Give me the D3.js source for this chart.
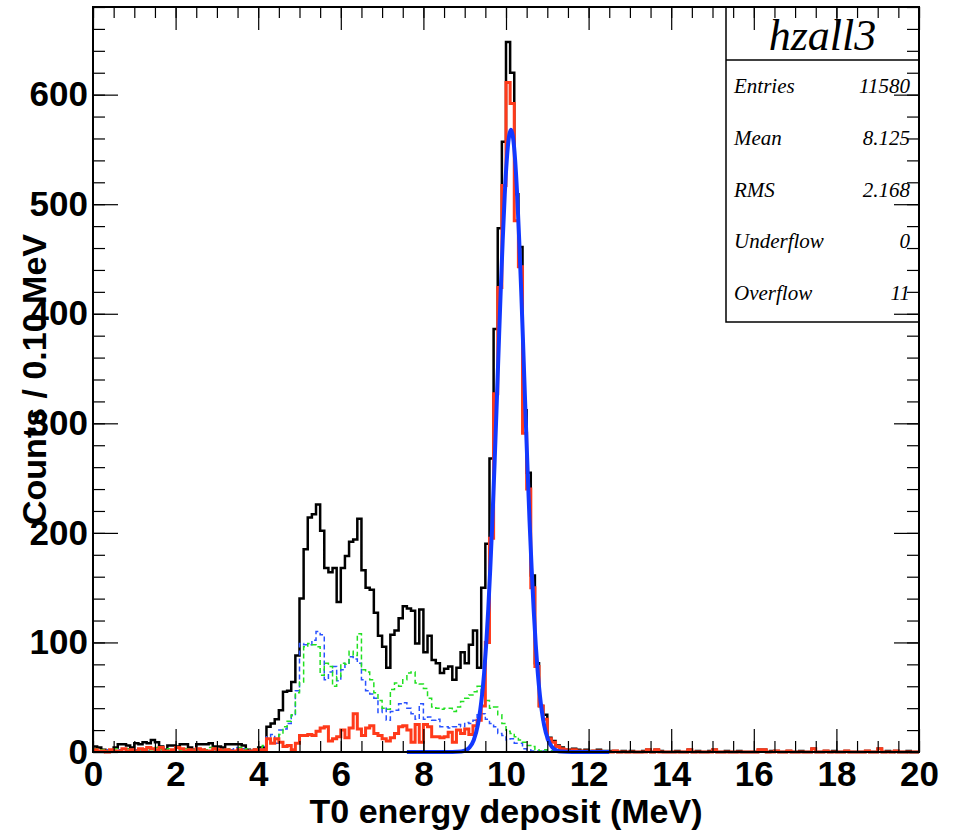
<!DOCTYPE html>
<html>
<head>
<meta charset="utf-8">
<script src="https://cdn.jsdelivr.net/npm/d3@7"></script>
<style>
  body { margin: 0; background: #fff; }
</style>
</head>
<body>
<div id="chart"></div>
<script>
// histogram binning: 200 bins of 0.1 MeV between 0 and 20 MeV
var binLow = 0, binHigh = 20, binWidth = 0.1;

// hzall3 - all events (black)
var totalCounts = [
  5, 4, 2, 1, 1, 4, 7, 7, 6, 4,   8, 7, 9, 8, 11, 9, 5, 2, 6, 6,
  5, 7, 7, 4, 2, 7, 7, 7, 8, 5,   5, 4, 7, 7, 7, 7, 6, 2, 1, 2,
  4, 4, 23, 26, 30, 38, 55, 56, 64, 88,   140, 185, 214, 217, 226, 202, 168, 164, 168, 137,
  168, 179, 192, 194, 213, 166, 150, 148, 127, 106,   96, 77, 107, 111, 122, 133, 131, 129, 99, 130,
  91, 106, 84, 81, 72, 76, 78, 66, 77, 91,   81, 98, 111, 77, 150, 190, 268, 386, 478, 557,
  648, 620, 509, 461, 312, 255, 161, 81, 42, 34,   13, 10, 6, 4, 2, 2, 3, 2, 1, 2,
  1, 1, 2, 1, 1, 1, 1, 0, 1, 0,   1, 0, 0, 1, 2, 0, 2, 1, 0, 0,
  0, 1, 0, 0, 2, 0, 1, 0, 0, 1,   2, 0, 0, 1, 0, 0, 1, 0, 0, 0,
  0, 2, 2, 0, 1, 1, 0, 0, 1, 0,   0, 1, 0, 0, 3, 0, 0, 1, 0, 1,
  0, 0, 1, 0, 0, 0, 0, 1, 0, 0,   3, 0, 1, 0, 1, 0, 0, 1, 0, 0
];

// solid red component
var redCounts = [
  2, 1, 1, 0, 2, 1, 1, 3, 1, 2,   1, 3, 2, 4, 3, 2, 4, 1, 1, 2,
  4, 3, 1, 2, 1, 3, 2, 1, 1, 3,   2, 1, 2, 1, 1, 2, 1, 1, 1, 2,
  2, 2, 12, 8, 12, 9, 5, 6, 2, 8,   15, 15, 16, 15, 19, 22, 23, 10, 12, 14,
  20, 13, 22, 35, 21, 15, 22, 24, 17, 15,   12, 10, 13, 17, 23, 24, 20, 9, 25, 9,
  25, 23, 14, 14, 13, 14, 18, 9, 20, 17,   21, 16, 24, 29, 42, 100, 195, 327, 424, 517,
  611, 592, 485, 443, 291, 240, 150, 78, 42, 30,   12, 9, 5, 3, 2, 1, 2, 1, 1, 1,
  0, 1, 1, 0, 0, 0, 1, 0, 0, 0,   0, 0, 0, 0, 2, 0, 2, 0, 0, 0,
  0, 0, 0, 0, 2, 0, 0, 0, 0, 0,   2, 0, 0, 0, 0, 0, 0, 0, 0, 0,
  0, 2, 2, 0, 0, 1, 0, 0, 1, 0,   0, 0, 0, 0, 3, 0, 0, 1, 0, 0,
  0, 0, 1, 0, 0, 0, 0, 1, 0, 0,   3, 0, 0, 0, 1, 0, 0, 0, 0, 0
];

// dashed blue component
var blueCounts = [
  2, 1, 1, 2, 1, 0, 2, 1, 1, 1,   2, 1, 2, 1, 3, 2, 1, 1, 2, 1,
  1, 2, 1, 1, 2, 1, 3, 2, 1, 1,   2, 1, 1, 2, 4, 2, 3, 1, 2, 1,
  3, 5, 14, 16, 8, 20, 21, 26, 33, 56,   99, 98, 98, 102, 110, 107, 66, 73, 78, 65,
  75, 81, 87, 85, 81, 66, 56, 53, 49, 36,   40, 29, 37, 38, 44, 45, 40, 35, 30, 44,
  30, 32, 29, 30, 23, 23, 22, 23, 25, 23,   27, 26, 29, 34, 35, 30, 26, 23, 17, 15,
  11, 12, 8, 8, 3, 2, 1, 1, 0, 1,   0, 1, 0, 0, 0, 0, 0, 0, 0, 0,
  0, 0, 0, 0, 0, 0, 0, 0, 0, 0,   0, 0, 0, 0, 0, 0, 0, 0, 0, 0,
  0, 0, 0, 0, 0, 0, 0, 0, 0, 0,   0, 0, 0, 0, 0, 0, 0, 0, 0, 0,
  0, 0, 0, 0, 0, 0, 0, 0, 0, 0,   0, 0, 0, 0, 0, 0, 0, 0, 0, 0,
  0, 0, 0, 0, 0, 0, 0, 0, 0, 0,   0, 0, 0, 0, 0, 0, 0, 0, 0, 0
];

// dashed green component
var greenCounts = [
  3, 2, 2, 1, 2, 3, 1, 2, 3, 1,   2, 1, 3, 2, 2, 4, 2, 1, 3, 2,
  2, 1, 3, 2, 2, 1, 3, 2, 4, 2,   1, 2, 3, 2, 1, 4, 2, 3, 1, 2,
  4, 6, 11, 9, 12, 16, 23, 28, 34, 54,   64, 96, 99, 98, 96, 70, 81, 78, 60, 69,
  81, 80, 92, 88, 108, 75, 73, 66, 54, 47,   40, 39, 57, 63, 60, 66, 72, 73, 63, 62,
  58, 49, 41, 40, 39, 40, 40, 37, 41, 46,   49, 52, 55, 60, 52, 47, 40, 41, 34, 26,
  19, 17, 14, 11, 9, 6, 5, 2, 1, 2,   1, 1, 0, 0, 0, 0, 0, 0, 0, 0,
  0, 0, 0, 0, 0, 0, 0, 0, 0, 0,   0, 0, 0, 0, 0, 0, 0, 0, 0, 0,
  0, 0, 0, 0, 0, 0, 0, 0, 0, 0,   0, 0, 0, 0, 0, 0, 0, 0, 0, 0,
  0, 0, 0, 0, 0, 0, 0, 0, 0, 0,   0, 0, 0, 0, 0, 0, 0, 0, 0, 0,
  0, 0, 0, 0, 0, 0, 0, 0, 0, 0,   0, 0, 0, 0, 0, 0, 0, 0, 0, 0
];

// gaussian fit curve
var fitX = [7.6, 8.2, 8.7, 8.92, 9.02, 9.12, 9.22, 9.32, 9.42, 9.47, 9.52, 9.57, 9.62, 9.67, 9.72, 9.77,
            9.82, 9.87, 9.92, 9.97, 10.02, 10.07, 10.12, 10.17, 10.22, 10.27, 10.32, 10.37, 10.42,
            10.47, 10.52, 10.57, 10.62, 10.67, 10.72, 10.77, 10.82, 10.92, 11.02, 11.12, 11.22,
            11.32, 11.6, 12.0, 12.5];
var fitY = [0, 0, 0.1, 0.5, 1.5, 4.3, 11, 25, 52, 72, 98, 130, 168, 211, 260, 312,
            366, 419, 467, 509, 541, 561, 568, 561, 541, 509, 467, 419, 366,
            312, 260, 211, 168, 130, 98, 72, 52, 25, 11, 4.3, 1.5,
            0.5, 0.1, 0, 0];

var xTicks = [0, 2, 4, 6, 8, 10, 12, 14, 16, 18, 20];
var yTicks = [0, 100, 200, 300, 400, 500, 600];

var statsTitle = "hzall3";
var statsNames = ["Entries", "Mean", "RMS", "Underflow", "Overflow"];
var statsValues = ["11580", "8.125", "2.168", "0", "11"];

var W = 956, H = 833;
var frame = {left: 93, right: 919, top: 7, bottom: 752};
var labelFont = "'Liberation Sans', Arial, Helvetica, sans-serif";
var statFont = "'Liberation Serif', 'Times New Roman', serif";

var svg = d3.select("#chart")
  .append("svg")
    .attr("width", W)
    .attr("height", H)
    .style("background", "#fff");

var x = d3.scaleLinear()
  .domain([binLow, binHigh])
  .range([frame.left, frame.right]);

var y = d3.scaleLinear()
  .domain([0, 680])
  .range([frame.bottom, frame.top]);

// step outline of a histogram
function histPath(counts) {
  var pts = counts.map(function(c, i) { return [binLow + i * binWidth, c]; });
  pts.push([binHigh, counts[counts.length - 1]]);
  return d3.line()
    .x(function(d) { return x(d[0]); })
    .y(function(d) { return y(d[1]); })
    .curve(d3.curveStepAfter)(pts);
}

var plot = svg.append("g");

plot.append("path")
  .attr("d", histPath(totalCounts))
  .attr("fill", "none")
  .attr("stroke", "#000")
  .attr("stroke-width", 2.5);

plot.append("path")
  .attr("d", histPath(blueCounts))
  .attr("fill", "none")
  .attr("stroke", "#2a52ff")
  .attr("stroke-width", 1.5)
  .attr("stroke-dasharray", "5,3");

plot.append("path")
  .attr("d", histPath(greenCounts))
  .attr("fill", "none")
  .attr("stroke", "#22e022")
  .attr("stroke-width", 1.5)
  .attr("stroke-dasharray", "5,3");

plot.append("path")
  .attr("d", histPath(redCounts))
  .attr("fill", "none")
  .attr("stroke", "#ff3a1a")
  .attr("stroke-width", 3);

// fit line
plot.append("path")
  .datum(d3.zip(fitX, fitY))
  .attr("fill", "none")
  .attr("stroke", "#1238ff")
  .attr("stroke-width", 4)
  .attr("d", d3.line()
    .x(function(d) { return x(d[0]); })
    .y(function(d) { return y(d[1]); })
    .curve(d3.curveMonotoneX));

// stats box
var box = {x: 726, y: frame.top, w: frame.right - 726, h: 315};
svg.append("rect")
  .attr("x", box.x).attr("y", box.y)
  .attr("width", box.w).attr("height", box.h)
  .attr("fill", "#fff")
  .attr("stroke", "#000")
  .attr("stroke-width", 1.5);
svg.append("line")
  .attr("x1", box.x).attr("x2", box.x + box.w)
  .attr("y1", 60).attr("y2", 60)
  .attr("stroke", "#000").attr("stroke-width", 1.5);
svg.append("text")
  .attr("x", box.x + box.w / 2)
  .attr("y", 50)
  .attr("text-anchor", "middle")
  .style("font-family", statFont)
  .style("font-style", "italic")
  .style("font-size", "44px")
  .text(statsTitle);

var rowY = d3.scalePoint().domain(statsNames).range([93, 300]);
svg.selectAll(".stat-name")
  .data(statsNames)
  .enter()
  .append("text")
    .attr("x", 734)
    .attr("y", function(d) { return rowY(d); })
    .style("font-family", statFont)
    .style("font-style", "italic")
    .style("font-size", "21px")
    .text(function(d) { return d; });
svg.selectAll(".stat-value")
  .data(statsValues)
  .enter()
  .append("text")
    .attr("x", 910)
    .attr("y", function(d, i) { return rowY(statsNames[i]); })
    .attr("text-anchor", "end")
    .style("font-family", statFont)
    .style("font-style", "italic")
    .style("font-size", "21px")
    .text(function(d) { return d; });

// frame
svg.append("rect")
  .attr("x", frame.left).attr("y", frame.top)
  .attr("width", frame.right - frame.left)
  .attr("height", frame.bottom - frame.top)
  .attr("fill", "none")
  .attr("stroke", "#000")
  .attr("stroke-width", 2);

// ticks on all four sides, pointing inward
var xMinor = d3.range(0, 20.001, 0.5);
var yMinor = d3.range(0, 681, 20);

function styleAxis(g) {
  g.select(".domain").remove();
  g.selectAll(".tick line").attr("stroke", "#000").attr("stroke-width", 1.2);
}

svg.append("g")
  .attr("transform", "translate(0," + frame.bottom + ")")
  .call(d3.axisBottom(x).tickValues(xMinor).tickSize(-11).tickFormat(""))
  .call(styleAxis);
svg.append("g")
  .attr("transform", "translate(0," + frame.bottom + ")")
  .call(d3.axisBottom(x).tickValues(xTicks).tickSize(-23).tickPadding(9).tickFormat(d3.format("d")))
  .call(styleAxis)
  .selectAll("text")
    .style("font-family", labelFont)
    .style("font-weight", "bold")
    .style("font-size", "35px")
    .attr("fill", "#000");
svg.append("g")
  .attr("transform", "translate(0," + frame.top + ")")
  .call(d3.axisTop(x).tickValues(xMinor).tickSize(-11).tickFormat(""))
  .call(styleAxis);
svg.append("g")
  .attr("transform", "translate(0," + frame.top + ")")
  .call(d3.axisTop(x).tickValues(xTicks).tickSize(-23).tickFormat(""))
  .call(styleAxis);

svg.append("g")
  .attr("transform", "translate(" + frame.left + ",0)")
  .call(d3.axisLeft(y).tickValues(yMinor).tickSize(-12).tickFormat(""))
  .call(styleAxis);
svg.append("g")
  .attr("transform", "translate(" + frame.left + ",0)")
  .call(d3.axisLeft(y).tickValues(yTicks).tickSize(-25).tickPadding(5).tickFormat(d3.format("d")))
  .call(styleAxis)
  .selectAll("text")
    .style("font-family", labelFont)
    .style("font-weight", "bold")
    .style("font-size", "35px")
    .attr("fill", "#000");
svg.append("g")
  .attr("transform", "translate(" + frame.right + ",0)")
  .call(d3.axisRight(y).tickValues(yMinor).tickSize(-12).tickFormat(""))
  .call(styleAxis);
svg.append("g")
  .attr("transform", "translate(" + frame.right + ",0)")
  .call(d3.axisRight(y).tickValues(yTicks).tickSize(-25).tickFormat(""))
  .call(styleAxis);

// axis titles
svg.append("text")
  .attr("x", (frame.left + frame.right) / 2)
  .attr("y", 823)
  .attr("text-anchor", "middle")
  .style("font-family", labelFont)
  .style("font-weight", "bold")
  .style("font-size", "34px")
  .text("T0 energy deposit (MeV)");

svg.append("text")
  .attr("transform", "translate(46," + ((frame.top + frame.bottom) / 2) + ") rotate(-90)")
  .attr("text-anchor", "middle")
  .style("font-family", labelFont)
  .style("font-weight", "bold")
  .style("font-size", "34px")
  .text("Counts / 0.10 MeV");
</script>
</body>
</html>
